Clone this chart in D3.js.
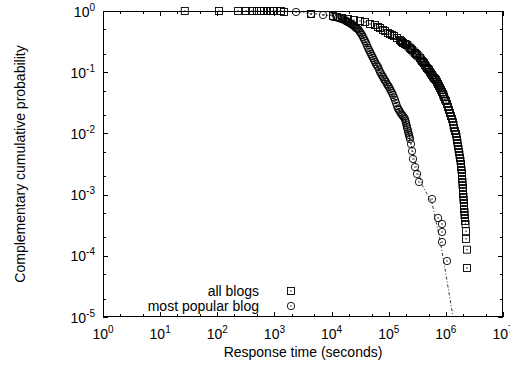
<!DOCTYPE html>
<html>
<head>
<meta charset="utf-8">
<script src="https://cdn.jsdelivr.net/npm/d3@7"></script>
<style>
  html, body { margin: 0; padding: 0; background: #fff; }
  svg { display: block; font-family: "Liberation Sans", Arial, Helvetica, sans-serif; }
</style>
</head>
<body>
<div id="chart"></div>
<script>
// response time (s) vs complementary cumulative probability
const allBlogsX = [27, 107, 231, 318, 405, 496, 582, 657, 741, 837, 944, 1110, 1303, 1471,
  4365, 10600, 12450, 15240, 19400, 24720, 31470, 38460, 47100, 57540, 65010, 70470, 79430,
  86100, 97240, 105400, 114200, 123800, 139600, 157700, 164100, 170900, 177800, 192800, 200900,
  208900, 222000, 236000, 245500, 255800, 271600, 288400, 300600, 312600, 332000, 353200,
  367600, 382800, 398400, 414900, 431500, 449500, 467700, 487300, 507000, 528400, 549600,
  572800, 596000, 620900, 645700, 672900, 699800, 729400, 758600, 790700, 822200, 857000,
  891300, 909800, 928800, 966000,
  1007000, 1047000, 1091000, 1135000, 1183000, 1230000, 1282000, 1334000, 1362000, 1390000,
  1446000, 1507000, 1537000, 1567000, 1600000, 1633000, 1666000, 1698000, 1734000, 1770000,
  1806000, 1841000, 1841000, 1880000, 1919000, 1919000, 1919000, 1957000, 1957000, 1995000,
  1995000, 1995000, 2037000, 2037000, 2080000, 2080000, 2080000, 2121000, 2121000, 2163000,
  2163000, 2208000, 2254000, 2254000, 2344000, 2344000];
const allBlogsY = [1, 1, 1, 1, 1, 1, 1, 1, 1, 1, 1, 1, 1, 0.963,
  0.893, 0.829, 0.798, 0.769, 0.740, 0.713, 0.687, 0.661, 0.613, 0.590, 0.548, 0.528, 0.489,
  0.471, 0.437, 0.421, 0.405, 0.390, 0.362, 0.336, 0.324, 0.312, 0.300, 0.289, 0.284,
  0.278, 0.263, 0.249, 0.239, 0.231, 0.218, 0.206, 0.198, 0.191, 0.181, 0.171,
  0.161, 0.152, 0.147, 0.141, 0.131, 0.124, 0.117, 0.113, 0.109, 0.101, 0.0952,
  0.0900, 0.0851, 0.0804, 0.0774, 0.0746, 0.0692, 0.0641, 0.0595, 0.0552, 0.0512, 0.0475,
  0.0440, 0.0416, 0.0393, 0.0358,
  0.0338, 0.0302, 0.0270, 0.0241, 0.0215, 0.0192, 0.0172, 0.0153, 0.0137, 0.0123,
  0.0109, 0.00977, 0.00873, 0.00780, 0.00697, 0.00622, 0.00556, 0.00497, 0.00444, 0.00396,
  0.00354, 0.00316, 0.00282, 0.00252, 0.00225, 0.00201, 0.00180, 0.00161, 0.00144, 0.00128,
  0.00115, 0.00102, 0.000914, 0.000817, 0.000730, 0.000652, 0.000582, 0.000520, 0.000465, 0.000415,
  0.000371, 0.000331, 0.000252, 0.000189, 0.000126, 0.0000632];

const popularX = [2387, 4365, 7080, 10600, 12970, 14060, 15240, 15850, 17180, 17900, 18620,
  19400, 20190, 21030, 21880, 22800, 23720, 24720, 25700, 26790, 27860, 29040, 30200, 31470,
  32730, 34120, 35480, 36980, 38460, 40090, 41690, 43450, 45190, 47100, 48980, 51050, 53090,
  55310, 57540, 59960, 62370, 65010, 67610, 70470, 73280, 76380, 79430, 82760, 86100, 89740,
  93330, 97240, 101200, 105400, 109600, 114200, 118900, 123800, 128800, 134200, 139600, 145500,
  151400, 157700, 164100, 170900, 177800, 185300, 192800, 196800, 200900, 204800, 208900,
  213300, 217800, 222000, 226500, 231100, 236000, 245500, 255800, 266100, 288400, 312600,
  338800, 572800, 729400, 857000, 857000, 857000, 1047000];
const popularY = [0.963, 0.893, 0.860, 0.798, 0.769, 0.754, 0.740, 0.726, 0.713, 0.687, 0.674,
  0.661, 0.649, 0.637, 0.613, 0.602, 0.590, 0.569, 0.548, 0.528, 0.518, 0.508, 0.480, 0.454,
  0.429, 0.405, 0.376, 0.349, 0.324, 0.300, 0.273, 0.249, 0.231, 0.214, 0.198, 0.184, 0.171,
  0.158, 0.147, 0.136, 0.1287, 0.122, 0.1107, 0.101, 0.0952, 0.0883, 0.0835, 0.0774, 0.0732, 0.0692,
  0.0641, 0.0606, 0.0573, 0.0531, 0.0493, 0.0457, 0.0424, 0.0386, 0.0351, 0.0314, 0.0280, 0.0255,
  0.0241, 0.0224, 0.0211, 0.0200, 0.0192, 0.0182, 0.0172, 0.01595, 0.0148, 0.0137, 0.0127,
  0.0118, 0.0109, 0.01015, 0.00942, 0.00873, 0.00810, 0.00671, 0.00515, 0.00382, 0.00282, 0.00217,
  0.00161, 0.000847, 0.000415, 0.000331, 0.000245, 0.000168, 0.0000822];

// fitted curve for the most popular blog (dash-dot)
const fitX = [1000, 2387, 10600, 31470, 70470, 157700, 236000, 300600, 382800, 572800, 790700, 1007000, 1334000];
const fitY = [1, 0.981, 0.829, 0.471, 0.1047, 0.0224, 0.00780, 0.00305, 0.00144, 0.000730, 0.000181, 0.0000485, 0.00001];

const xMajor = [1, 10, 100, 1e3, 1e4, 1e5, 1e6, 1e7];
const yMajor = [1e-5, 1e-4, 1e-3, 1e-2, 1e-1, 1];
const minorSteps = [2, 5];

const legendLabels = ["all blogs", "most popular blog"];

const width = 510, height = 367;
const margin = { top: 11, right: 7, bottom: 50, left: 103 };

const svg = d3.select("#chart").append("svg")
  .attr("width", width)
  .attr("height", height);

const x = d3.scaleLog()
  .domain([1, 1e7])
  .range([margin.left, width - margin.right]);

const y = d3.scaleLog()
  .domain([1e-5, 1])
  .range([height - margin.bottom, margin.top]);

const x0 = x.range()[0], x1 = x.range()[1];
const y0 = y.range()[0], y1 = y.range()[1];

// minor tick positions
const xMinor = [];
xMajor.slice(0, -1).forEach(v => minorSteps.forEach(s => xMinor.push(v * s)));
const yMinor = [];
yMajor.slice(0, -1).forEach(v => minorSteps.forEach(s => yMinor.push(v * s)));

const ticks = svg.append("g")
  .attr("stroke", "#000")
  .attr("stroke-width", 1);

function tickLines(vals, len, isX) {
  vals.forEach(v => {
    if (isX) {
      const px = Math.round(x(v)) + 0.5;
      ticks.append("line").attr("x1", px).attr("x2", px).attr("y1", y0).attr("y2", y0 - len);
      ticks.append("line").attr("x1", px).attr("x2", px).attr("y1", y1).attr("y2", y1 + len);
    } else {
      const py = Math.round(y(v)) + 0.5;
      ticks.append("line").attr("y1", py).attr("y2", py).attr("x1", x0).attr("x2", x0 + len);
      ticks.append("line").attr("y1", py).attr("y2", py).attr("x1", x1).attr("x2", x1 - len);
    }
  });
}
tickLines(xMajor, 5, true);
tickLines(xMinor, 3, true);
tickLines(yMajor, 5, false);
tickLines(yMinor, 3, false);

// tick labels like 10^k
function powerLabel(g, v, px, py, anchor) {
  const k = Math.round(Math.log10(v));
  const t = g.append("text")
    .attr("x", px)
    .attr("y", py)
    .attr("text-anchor", anchor)
    .attr("font-size", 14)
    .attr("fill", "#000");
  t.append("tspan").text("10");
  t.append("tspan").attr("dy", -6).attr("font-size", 10).text(k);
}

const labels = svg.append("g");
xMajor.forEach(v => powerLabel(labels, v, x(v), y0 + 22, "middle"));
yMajor.forEach(v => powerLabel(labels, v, x0 - 8, y(v) + 5.5, "end"));

// axis titles
svg.append("text")
  .attr("x", (x0 + x1) / 2)
  .attr("y", 357)
  .attr("text-anchor", "middle")
  .attr("font-size", 14)
  .text("Response time (seconds)");

svg.append("text")
  .attr("transform", `translate(25,${(y0 + y1) / 2}) rotate(-90)`)
  .attr("text-anchor", "middle")
  .attr("font-size", 14)
  .text("Complementary cumulative probability");

// fit line
const fitData = fitX.map((v, i) => [v, fitY[i]]);
svg.append("path")
  .datum(fitData)
  .attr("fill", "none")
  .attr("stroke", "#000")
  .attr("stroke-width", 0.8)
  .attr("stroke-dasharray", "3,2,1,2")
  .attr("d", d3.line().x(d => x(d[0])).y(d => y(d[1])));

// markers
function squareMark(g, cx, cy) {
  g.append("rect")
    .attr("x", cx - 3.5).attr("y", cy - 3.5)
    .attr("width", 7).attr("height", 7)
    .attr("fill", "none").attr("stroke", "#000").attr("stroke-width", 0.9);
  g.append("rect")
    .attr("x", cx - 0.6).attr("y", cy - 0.6)
    .attr("width", 1.2).attr("height", 1.2)
    .attr("fill", "#000");
}
function circleMark(g, cx, cy) {
  g.append("circle")
    .attr("cx", cx).attr("cy", cy).attr("r", 3.7)
    .attr("fill", "none").attr("stroke", "#000").attr("stroke-width", 0.9);
  g.append("circle")
    .attr("cx", cx).attr("cy", cy).attr("r", 0.7)
    .attr("fill", "#000");
}

const allG = svg.append("g");
allBlogsX.forEach((v, i) => squareMark(allG, x(v), y(allBlogsY[i])));

const popG = svg.append("g");
popularX.forEach((v, i) => circleMark(popG, x(v), y(popularY[i])));

// frame
svg.append("rect")
  .attr("x", x0 + 0.5).attr("y", y1 + 0.5)
  .attr("width", x1 - x0 - 1).attr("height", y0 - y1 - 1)
  .attr("fill", "none").attr("stroke", "#000").attr("stroke-width", 1);

// legend
const legend = svg.append("g");
legendLabels.forEach((lab, i) => {
  const ly = 291 + i * 15;
  legend.append("text")
    .attr("x", 259)
    .attr("y", ly + 4.5)
    .attr("text-anchor", "end")
    .attr("font-size", 14)
    .text(lab);
  if (i === 0) squareMark(legend, 291, ly);
  else circleMark(legend, 291, ly);
});
</script>
</body>
</html>
